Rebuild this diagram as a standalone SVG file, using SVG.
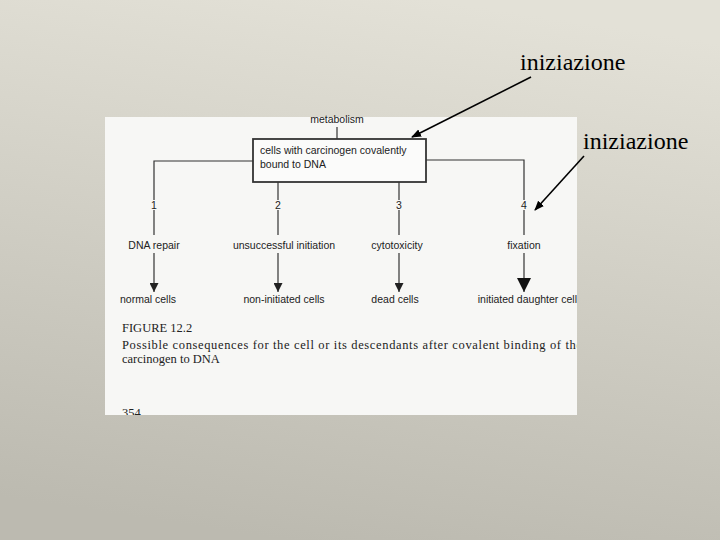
<svg xmlns="http://www.w3.org/2000/svg" width="720" height="540" viewBox="0 0 720 540">
<defs>
<linearGradient id="bg" x1="0.6" y1="0" x2="0.4" y2="1">
<stop offset="0" stop-color="#e3e1d7"/>
<stop offset="1" stop-color="#bcbab0"/>
</linearGradient>
<marker id="ah" viewBox="0 0 10 10" refX="10" refY="5" markerWidth="9" markerHeight="9" markerUnits="userSpaceOnUse" orient="auto">
<path d="M0,0 L10,5 L0,10 z" fill="#222"/>
</marker>
<marker id="ahb" viewBox="0 0 10 10" refX="10" refY="5" markerWidth="14" markerHeight="14" markerUnits="userSpaceOnUse" orient="auto">
<path d="M0,0 L10,5 L0,10 z" fill="#111"/>
</marker>
<marker id="ka" viewBox="0 0 10 10" refX="9" refY="5" markerWidth="10" markerHeight="10" markerUnits="userSpaceOnUse" orient="auto">
<path d="M0,1 L10,5 L0,9 z" fill="#000"/>
</marker>
</defs>
<style>
.s{font-family:"Liberation Sans",Arial,sans-serif;font-size:10.5px;fill:#222;text-anchor:middle}
.c{font-family:"Liberation Serif","Times New Roman",serif;font-size:12.5px;fill:#222}
.it{font-family:"Liberation Serif","Times New Roman",serif;font-size:24px;fill:#000}
.ln{stroke:#333;stroke-width:1.2;fill:none}
</style>
<rect width="720" height="540" fill="url(#bg)"/>
<rect x="105" y="117" width="472" height="298" fill="#f7f7f5"/>
<g id="connectors">
<line class="ln" x1="337" y1="127" x2="337" y2="139" stroke-width="2"/>
<polyline class="ln" points="253,161 154,161 154,200"/>
<polyline class="ln" points="426,160 524,160 524,200" stroke-width="2"/>
<line class="ln" x1="278" y1="182" x2="278" y2="200" stroke-width="1.6"/>
<line class="ln" x1="399" y1="182" x2="399" y2="200"/>
<line class="ln" x1="154" y1="210" x2="154" y2="235"/>
<line class="ln" x1="278" y1="210" x2="278" y2="235" stroke-width="1.6"/>
<line class="ln" x1="399" y1="210" x2="399" y2="235"/>
<line class="ln" x1="524" y1="210" x2="524" y2="235" stroke-width="2.2"/>
<line class="ln" x1="154" y1="253" x2="154" y2="292" marker-end="url(#ah)"/>
<line class="ln" x1="278" y1="253" x2="278" y2="292" stroke-width="1.6" marker-end="url(#ah)"/>
<line class="ln" x1="399" y1="253" x2="399" y2="292" marker-end="url(#ah)"/>
<line class="ln" x1="524" y1="253" x2="524" y2="292" stroke-width="3" stroke="#111" marker-end="url(#ahb)"/>
<line x1="531" y1="77" x2="412" y2="137" stroke="#000" stroke-width="1.6" marker-end="url(#ka)"/>
<line x1="584" y1="156" x2="535" y2="210" stroke="#000" stroke-width="1.6" marker-end="url(#ka)"/>
</g>
<g id="metabolism"><text class="s" x="337" y="123">metabolism</text></g>
<g id="box">
<rect x="253" y="139" width="173" height="43" fill="#fbfbfa" stroke="#333" stroke-width="1.8"/>
<text class="s" x="260" y="154" style="text-anchor:start">cells with carcinogen covalently</text>
<text class="s" x="260" y="168" style="text-anchor:start">bound to DNA</text>
</g>
<g id="n1"><text class="s" x="154" y="209">1</text><text class="s" x="154" y="249">DNA repair</text><text class="s" x="148" y="303">normal cells</text></g>
<g id="n2"><text class="s" x="278" y="209">2</text><text class="s" x="284" y="249">unsuccessful initiation</text><text class="s" x="284" y="303">non-initiated cells</text></g>
<g id="n3"><text class="s" x="399" y="209">3</text><text class="s" x="397" y="249">cytotoxicity</text><text class="s" x="395" y="303">dead cells</text></g>
<g id="n4"><text class="s" x="524" y="209">4</text><text class="s" x="524" y="249">fixation</text>
<svg x="105" y="117" width="472" height="298" overflow="hidden"><text class="s" x="425" y="186">initiated daughter cells</text></svg></g>
<g id="caption">
<svg x="105" y="117" width="472" height="298" overflow="hidden">
<text class="c" x="17" y="215">FIGURE   12.2</text>
<text class="c" x="17" y="232" textLength="460" lengthAdjust="spacing">Possible consequences for the cell or its descendants after covalent binding of the</text>
<text class="c" x="17" y="246">carcinogen to DNA</text>
<text class="c" x="17" y="300">354</text>
</svg>
</g>
<g id="labels">
<text class="it" x="520" y="70">iniziazione</text>
<text class="it" x="583" y="149">iniziazione</text>
</g>
</svg>
